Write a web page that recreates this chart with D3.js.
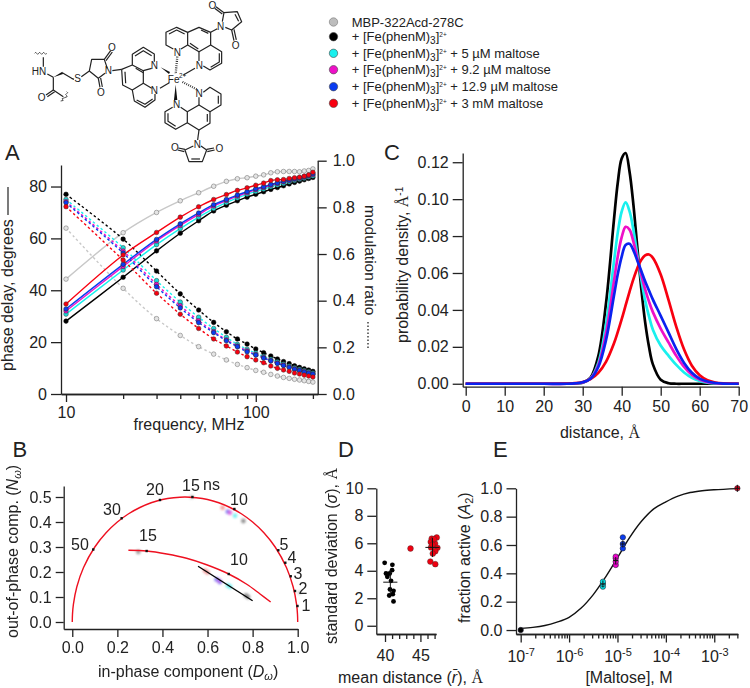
<!DOCTYPE html>
<html><head><meta charset="utf-8">
<script src="https://cdn.jsdelivr.net/npm/d3@7/dist/d3.min.js"></script>
<style>
html,body{margin:0;padding:0;background:#fff}
svg{display:block}
text{font-family:"Liberation Sans",Arial,sans-serif;fill:#222}
.axis path,.axis line{stroke:#222;stroke-width:1.3;fill:none;shape-rendering:auto}
.axis text{font-size:16px;font-family:"Liberation Sans",Arial,sans-serif;fill:#222}
</style></head><body>
<svg id="c" width="750" height="688" viewBox="0 0 750 688"></svg>
<script>
// ---------- Panel A data ----------
const freqs=[10,20,30,40,50,60,70,80,90,100,110,120,130,140,150,160,170,180,190,200];
const phaseGray=[44.3,62.2,70,74.5,77.6,80.1,82,83,83.4,84,84.5,85.3,85.7,85.8,85.8,85.8,85.7,86,86.2,86.8];
const phaseBlack=[28.1,45,55.2,62,66.8,70.6,72.8,74.5,75.9,77,78,78.9,79.6,80.3,81,81.6,82.1,82.6,83.1,83.5];
const phaseCyan=[30.8,47.8,57.6,63.8,68.2,71.5,73.8,75.6,77,78.1,79,79.9,80.6,81.2,81.8,82.3,82.8,83.2,83.7,84.1];
const phaseMagenta=[32,49.2,59,65,69.2,72.5,74.6,76.3,77.6,78.8,79.6,80.5,81.2,81.8,82.3,82.8,83.2,83.6,84.1,84.6];
const phaseBlue=[32.8,50,59.6,65.6,69.8,73,75,76.7,78,79.1,79.9,80.8,81.4,82,82.5,83,83.4,83.8,84.3,84.9];
const phaseRed=[34.7,53.6,62.3,68.2,72.2,75,76.9,78.5,79.5,80.5,81.3,82.3,82.6,82.7,83.1,83.4,83.6,84,84.5,85.5];
const modGray=[.711,.453,.323,.251,.203,.171,.146,.127,.113,.101,.093,.084,.077,.071,.067,.063,.06,.057,.054,.051];
const modBlack=[.856,.664,.527,.429,.36,.307,.267,.236,.214,.193,.177,.163,.15,.139,.13,.121,.114,.108,.103,.097];
const modCyan=[.834,.627,.486,.394,.329,.281,.243,.213,.192,.175,.161,.149,.138,.128,.12,.112,.106,.1,.095,.09];
const modMagenta=[.825,.613,.47,.378,.314,.268,.232,.206,.185,.169,.156,.143,.133,.124,.116,.108,.102,.096,.091,.086];
const modBlue=[.82,.604,.46,.369,.306,.263,.228,.203,.181,.167,.154,.142,.131,.122,.114,.106,.1,.094,.089,.085];
const modRed=[.803,.574,.432,.342,.281,.236,.206,.18,.16,.146,.134,.12,.11,.103,.097,.09,.086,.081,.077,.073];
// ---------- Panel C data ----------
const dist=[0,10,20,26,28,30,32,34,36,38,39,40,41,42,43,44,45,46,47,48,50,52,54,56,58,60,62,64,66,70];
const pBlack=[0,0,0,0,.00005,.0005,.0033,.015,.044,.0885,.109,.122,.125,.115,.097,.074,.052,.0335,.02,.0105,.0022,.0003,0,0,0,0,0,0,0,0];
const pCyan=[0,0,0,0,.0001,.0007,.0029,.0113,.0324,.0659,.082,.0933,.0982,.0935,.0834,.0698,.0569,.0452,.0365,.0293,.0207,.0152,.0102,.0061,.0032,.0015,.0006,.0002,.0001,0];
const pMagenta=[0,0,0,0,.0002,.0007,.0028,.01,.0276,.0553,.0691,.0794,.085,.0835,.077,.0681,.0593,.0512,.0445,.0388,.0299,.0224,.0151,.0091,.0048,.0023,.0009,.0003,.0001,0];
const pRed=[0,0,0,.0001,.0003,.00096,.0025,.0059,.012,.0218,.0281,.035,.0424,.0498,.0567,.0626,.067,.0695,.07,.0682,.0592,.0454,.0308,.0185,.0098,.0046,.0019,.0007,.0002,0];
const pBlue=[0,0,0,0,.0002,.0008,.0027,.0091,.0239,.0475,.0595,.0689,.0752,.0758,.0723,.0668,.0612,.0555,.0505,.0456,.0368,.0278,.0188,.0113,.006,.0028,.0012,.0004,.0001,0];
// ---------- Panel B data ----------
const circleD=[0,.001,.005,.02,.05,.1,.15,.2,.25,.3,.35,.4,.45,.5,.55,.6,.65,.7,.75,.8,.85,.9,.95,.98,.995,.999,1];
const circleN=[0,.0316,.0705,.14,.218,.3,.357,.4,.433,.458,.477,.49,.497,.5,.497,.49,.477,.458,.433,.4,.357,.3,.218,.14,.0705,.0316,0];
const lifeD=[.093,.219,.389,.533,.719,.914,.945,.969,.988,.999];
const lifeN=[.29,.415,.488,.5,.452,.287,.237,.183,.124,.064];
const lifeLabels=["50","30","20","15","10","5","4","3","2","1"];
const arcD=[.249,.33,.419,.507,.596,.694,.774,.833,.88];
const arcN=[.287,.284,.272,.255,.229,.192,.151,.112,.08];
const arcTickD=[.33,.694];
const arcTickN=[.284,.192];
const arcLabels=["15","10"];
const fitD=[.558,.8];
const fitN=[.223,.085];
const spotD=[.667,.69,.7,.722,.759,.293,.53,1.008,.589,.6,.64,.655,.65,.7,.69,.77,.78];
const spotN=[.457,.441,.437,.425,.404,.28,.5,.117,.205,.198,.17,.16,.165,.141,.146,.106,.1];
const spotColor=["#e88","#66e","#d5d","#5ee","#777","#888","#ccc","#ccc","#e88","#e88","#66e","#66e","#b6e","#5ee","#5ee","#777","#777"];
// ---------- Panel D data ----------
const dBlackR=[39.95,41.04,41,40.14,40.66,40.33,40.85,40.7,41.2,40.6,41.1,41.2];
const dBlackS=[4.58,4.43,4.04,3.8,3.8,3.56,3.27,2.64,2.54,2.2,2.3,1.77];
const dRedR=[43.6,46.4,47.1,47.3,46.6,46.46,47.07,46.5,47.4,47.1,46.75,46.9,46.7];
const dRedS=[5.62,4.67,4.48,6.42,6.34,6.1,5.98,5.7,5.67,5.42,5.25,6.3,5.9];
const dMeanR=[40.75,46.7];
const dMeanS=[3.17,5.7];
const dErrR=[1,1];
const dErrS=[.9,.7];
// ---------- Panel E data ----------
const fitLogC=[-7,-6.75,-6.5,-6.25,-6,-5.75,-5.5,-5.25,-5,-4.75,-4.5,-4.25,-4,-3.75,-3.5,-3.25,-3,-2.52];
const fitA=[.012,.019,.032,.056,.09,.155,.25,.372,.51,.652,.769,.855,.905,.945,.97,.983,.99,.998];
const eConc=[1e-7,5e-6,5e-6,5e-6,9.2e-6,9.2e-6,9.2e-6,9.2e-6,1.29e-5,1.29e-5,1.29e-5,3e-3];
const eFrac=[0,.306,.325,.341,.459,.482,.506,.518,.576,.607,.654,1];
const eColor=["#000","#00e5e5","#00e5e5","#00e5e5","#ee00cc","#ee00cc","#ee00cc","#ee00cc","#0a3cf0","#0a3cf0","#0a3cf0","#e8001a"];
const eMeanC=[5e-6,9.2e-6,1.29e-5,3e-3];
const eMeanA=[.325,.49,.607,1];
// ---------- Legend ----------
const legendColors=["#bdbdbd","#000000","#19f0ee","#ee10c8","#0a3cf0","#f80010"];
const legendSuffix=["","", " + 5 µM maltose"," + 9.2 µM maltose"," + 12.9 µM maltose"," + 3 mM maltose"];

const svg=d3.select("#c");
const INK="#222";
function txt(x,y,s,size,anchor,rot){
  const t=svg.append("text").attr("font-size",size).attr("text-anchor",anchor||"start");
  if(rot!==undefined)t.attr("transform",`translate(${x},${y}) rotate(${rot})`);else t.attr("x",x).attr("y",y);
  if(s)t.text(s);
  return t;
}
function axis(gen,tx,ty,cls){
  const g=svg.append("g").attr("class","axis").attr("transform",`translate(${tx},${ty})`).call(gen);
  return g;
}
// panel letters
[["A",5,160],["B",12.5,457],["C",384,160],["D",338,457],["E",493,457]].forEach(d=>txt(d[1],d[2],d[0],22));

// ---------- Panel A ----------
{
 const x=d3.scaleLog().domain([9.41,212]).range([61,317.7]);
 const yL=d3.scaleLinear().domain([0,88.3]).range([394,165]);
 const yR=d3.scaleLinear().domain([0,1]).range([394,160.7]);
 const series=[
  {c:"#c8c8c8",pc:"#e4e4e4",ps:"#666",ph:phaseGray,m:modGray},
  {c:"#000",pc:"#000",ps:"#000",ph:phaseBlack,m:modBlack},
  {c:"#19f0ee",pc:"#19dcdc",ps:"#333",ph:phaseCyan,m:modCyan},
  {c:"#ee10c8",pc:"#ee10c8",ps:"#333",ph:phaseMagenta,m:modMagenta},
  {c:"#0a3cf0",pc:"#0a3cf0",ps:"#222",ph:phaseBlue,m:modBlue},
  {c:"#f80010",pc:"#f80010",ps:"#333",ph:phaseRed,m:modRed}];
 const lP=d3.line().x((d,i)=>x(freqs[i])).y(d=>yL(d)).curve(d3.curveCatmullRom);
 const lM=d3.line().x((d,i)=>x(freqs[i])).y(d=>yR(d)).curve(d3.curveCatmullRom);
 series.forEach(s=>{
  svg.append("path").attr("d",lP(s.ph)).attr("fill","none").attr("stroke",s.c).attr("stroke-width",1.4);
  svg.append("path").attr("d",lM(s.m)).attr("fill","none").attr("stroke",s.c).attr("stroke-width",1.4).attr("stroke-dasharray","2.5 2.5");
 });
 series.forEach(s=>{
  [[s.ph,yL],[s.m,yR]].forEach(([v,y])=>{
   svg.append("g").selectAll("circle").data(v).join("circle")
    .attr("cx",(d,i)=>x(freqs[i])).attr("cy",d=>y(d)).attr("r",2.3)
    .attr("fill",s.pc).attr("stroke",s.ps).attr("stroke-width",.5);
  });
 });
 axis(d3.axisLeft(yL).tickValues([0,20,40,60,80]).tickSize(10).tickSizeOuter(0).tickPadding(4),61,0);
 axis(d3.axisRight(yR).tickValues([0,.2,.4,.6,.8,1]).tickSize(9).tickSizeOuter(0).tickPadding(6).tickFormat(d3.format(".1f")),317.7,0);
 axis(d3.axisBottom(x).tickValues([20,30,40,50,60,70,80,90,200]).tickSize(5).tickSizeOuter(0).tickFormat(""),0,394);
 axis(d3.axisBottom(x).tickValues([10,100]).tickSize(8).tickSizeOuter(0).tickPadding(5).tickFormat(d3.format("d")),0,394);
 txt(189,430,"frequency, MHz",16,"middle");
 txt(13,371,"phase delay, degrees",16,"start",-90);
 svg.append("line").attr("x1",8).attr("x2",8).attr("y1",187).attr("y2",215).attr("stroke",INK).attr("stroke-width",1.2);
 txt(364.5,205,"modulation ratio",15.5,"start",90);
 svg.append("line").attr("x1",368).attr("x2",368).attr("y1",322).attr("y2",348).attr("stroke",INK).attr("stroke-width",1.3).attr("stroke-dasharray","1.5 2");
}

// ---------- Panel B ----------
{
 const x=d3.scaleLinear().domain([-.038,1]).range([63.7,297.7]);
 const y=d3.scaleLinear().domain([-.028,.544]).range([629,486]);
 const ln=d3.line().x(d=>x(d[0])).y(d=>y(d[1]));
 const defs=svg.append("defs");
 defs.append("filter").attr("id","fz").attr("x","-150%").attr("y","-150%").attr("width","400%").attr("height","400%")
   .append("feGaussianBlur").attr("stdDeviation",1.3);
 svg.append("g").attr("filter","url(#fz)").selectAll("circle").data(spotD).join("circle")
   .attr("cx",d=>x(d)).attr("cy",(d,i)=>y(spotN[i])).attr("r",2.4).attr("fill",(d,i)=>spotColor[i]).attr("opacity",.75);
 svg.append("path").attr("d",ln.curve(d3.curveCatmullRom)(d3.zip(circleD,circleN))).attr("fill","none").attr("stroke","#ee1020").attr("stroke-width",1.4);
 svg.append("path").attr("d",ln.curve(d3.curveCatmullRom)(d3.zip(arcD,arcN))).attr("fill","none").attr("stroke","#ee1020").attr("stroke-width",1.4);
 svg.append("path").attr("d",ln.curve(d3.curveLinear)(d3.zip(fitD,fitN))).attr("fill","none").attr("stroke","#000").attr("stroke-width",1.4);
 svg.append("g").selectAll("rect").data(lifeD.concat(arcTickD)).join("rect")
   .attr("x",d=>x(d)-1.2).attr("y",(d,i)=>y(lifeN.concat(arcTickN)[i])-1.2).attr("width",2.4).attr("height",2.4).attr("fill","#111");
 axis(d3.axisLeft(y).tickValues([0,.1,.2,.3,.4,.5]).tickSize(8).tickSizeOuter(0).tickPadding(4).tickFormat(d3.format(".1f")),63.7,0);
 axis(d3.axisBottom(x).tickValues([0,.2,.4,.6,.8,1]).tickSize(8).tickSizeOuter(0).tickPadding(5).tickFormat(d3.format(".1f")),0,629);
 const lab=[[80,549.5],[112,514.5],[155,494.5],[191,490.5],[239,504.5],[284,549.5],[292,562.5],[298,578.5],[303,593.5],[306,610.5]];
 lifeLabels.forEach((s,i)=>txt(lab[i][0],lab[i][1],s,16,"middle"));
 txt(203,490,"ns",16,"start");
 txt(148,540.5,arcLabels[0],16,"middle");
 txt(239,564.5,arcLabels[1],16,"middle");
 const t=txt(98,677,null,16);
 t.append("tspan").text("in-phase component (");
 t.append("tspan").attr("font-style","italic").text("D");
 t.append("tspan").attr("font-style","italic").attr("font-size",11).attr("dy",3).text("ω");
 t.append("tspan").attr("dy",-3).text(")");
 const u=txt(18,638,null,16,"start",-90);
 u.append("tspan").text("out-of-phase comp. (");
 u.append("tspan").attr("font-style","italic").text("N");
 u.append("tspan").attr("font-style","italic").attr("font-size",11).attr("dy",3).text("ω");
 u.append("tspan").attr("dy",-3).text(")");
}

// ---------- Panel C ----------
{
 const x=d3.scaleLinear().domain([-.77,70]).range([462.7,738.7]);
 const y=d3.scaleLinear().domain([-.0016,.125]).range([386.7,153]);
 const ln=d3.line().x((d,i)=>x(dist[i])).y(d=>y(d)).curve(d3.curveCatmullRom);
 [[pBlack,"#000"],[pCyan,"#19f0ee"],[pMagenta,"#ee10c8"],[pRed,"#f80010"],[pBlue,"#0a22f0"]].forEach(([v,c])=>{
  svg.append("path").attr("d",ln(v)).attr("fill","none").attr("stroke",c).attr("stroke-width",2.7);
 });
 axis(d3.axisLeft(y).tickValues([0,.02,.04,.06,.08,.1,.12]).tickSize(10).tickSizeOuter(0).tickPadding(4).tickFormat(d3.format(".2f")),462.7,0);
 axis(d3.axisBottom(x).tickValues(d3.range(0,71,10)).tickSize(9).tickSizeOuter(0).tickPadding(5).tickFormat(d3.format("d")),0,386.7);
 const t=txt(600,438,null,16,"middle");
 t.append("tspan").text("distance, ");
 t.append("tspan").style("font-family","Liberation Serif").text("Å");
 const u=txt(408,343,null,16,"start",-90);
 u.append("tspan").text("probability density, ");
 u.append("tspan").style("font-family","Liberation Serif").text("Å");
 u.append("tspan").attr("font-size",10).attr("dy",-5).text("-1");
}

// ---------- Panel D ----------
{
 const x=d3.scaleLinear().domain([38.77,47.2]).range([376.3,436]);
 const y=d3.scaleLinear().domain([-.6,10]).range([634,488.3]);
 svg.append("g").selectAll("circle").data(dBlackR).join("circle").attr("cx",d=>x(d)).attr("cy",(d,i)=>y(dBlackS[i])).attr("r",2.4).attr("fill","#000");
 svg.append("g").selectAll("circle").data(dRedR).join("circle").attr("cx",d=>x(d)).attr("cy",(d,i)=>y(dRedS[i])).attr("r",2.9).attr("fill","#f00010").attr("stroke","#333").attr("stroke-width",.4);
 dMeanR.forEach((r,i)=>{
  const g=svg.append("g").attr("stroke","#111").attr("stroke-width",1);
  g.append("line").attr("x1",x(r-dErrR[i])).attr("x2",x(r+dErrR[i])).attr("y1",y(dMeanS[i])).attr("y2",y(dMeanS[i]));
  g.append("line").attr("x1",x(r)).attr("x2",x(r)).attr("y1",y(dMeanS[i]-dErrS[i])).attr("y2",y(dMeanS[i]+dErrS[i]));
 });
 axis(d3.axisLeft(y).tickValues([0,2,4,6,8,10]).tickSize(9).tickSizeOuter(0).tickPadding(4).tickFormat(d3.format("d")),376.3,0);
 axis(d3.axisBottom(x).tickValues([41,42,43,44,46,47]).tickSize(5).tickSizeOuter(0).tickFormat(""),0,634);
 axis(d3.axisBottom(x).tickValues([40,45]).tickSize(8).tickSizeOuter(0).tickPadding(8).tickFormat(d3.format("d")),0,634);
 const t=txt(338,682.7,null,16);
 t.append("tspan").text("mean distance (");
 t.append("tspan").attr("font-style","italic").text("r\u0304");
 t.append("tspan").text("), ");
 t.append("tspan").style("font-family","Liberation Serif").text("Å");
 const u=txt(337,644,null,16,"start",-90);
 u.append("tspan").text("standard deviation (");
 u.append("tspan").attr("font-style","italic").text("σ");
 u.append("tspan").text("),  ");
 u.append("tspan").style("font-family","Liberation Serif").text("Å");
}

// ---------- Panel E ----------
{
 const x=d3.scaleLog().domain([8e-8,3.05e-3]).range([516,737.7]);
 const y=d3.scaleLinear().domain([-.028,1]).range([634,488.3]);
 const ln=d3.line().x((d,i)=>x(Math.pow(10,fitLogC[i]))).y(d=>y(d)).curve(d3.curveCatmullRom);
 svg.append("path").attr("d",ln(fitA)).attr("fill","none").attr("stroke","#111").attr("stroke-width",1.4);
 svg.append("g").selectAll("circle").data(eConc).join("circle").attr("cx",d=>x(d)).attr("cy",(d,i)=>y(eFrac[i])).attr("r",2.7)
   .attr("fill",(d,i)=>eColor[i]).attr("stroke","#223").attr("stroke-width",.6);
 eMeanC.forEach((c,i)=>{
  const g=svg.append("g").attr("stroke","#111").attr("stroke-width",1);
  g.append("line").attr("x1",x(c)-2.5).attr("x2",x(c)+2.5).attr("y1",y(eMeanA[i])).attr("y2",y(eMeanA[i]));
  g.append("line").attr("x1",x(c)).attr("x2",x(c)).attr("y1",y(eMeanA[i])-3.5).attr("y2",y(eMeanA[i])+3.5);
 });
 axis(d3.axisLeft(y).tickValues([0,.2,.4,.6,.8,1]).tickSize(9.5).tickSizeOuter(0).tickPadding(4).tickFormat(d3.format(".1f")),516,0);
 const minor=[];
 [-7,-6,-5,-4,-3].forEach(p=>[2,3,4,5,6,7,8,9].forEach(m=>{const v=m*Math.pow(10,p);if(v<=3.01e-3)minor.push(v);}));
 axis(d3.axisBottom(x).tickValues(minor).tickSize(4.5).tickSizeOuter(0).tickFormat(""),0,634);
 const major=axis(d3.axisBottom(x).tickValues([1e-7,1e-6,1e-5,1e-4,1e-3]).tickSize(8.5).tickSizeOuter(0).tickPadding(8).tickFormat(""),0,634);
 const expo=["-7","-6","-5","-4","-3"];
 major.selectAll(".tick text").each(function(d,i){
  const s=d3.select(this);
  s.text("10");
  s.append("tspan").attr("font-size",11).attr("dy",-6).text(expo[i]);
 });
 txt(629,682.7,"[Maltose], M",16,"middle");
 const u=txt(470,623,null,16,"start",-90);
 u.append("tspan").text("fraction active (");
 u.append("tspan").attr("font-style","italic").text("A");
 u.append("tspan").attr("font-size",11).attr("dy",3).text("2");
 u.append("tspan").attr("dy",-3).text(")");
}

// ---------- Legend ----------
{
 const ys=[22,36.7,53.3,69.7,86.7,103.3];
 legendColors.forEach((c,i)=>{
  svg.append("circle").attr("cx",333.5).attr("cy",ys[i]).attr("r",4.2).attr("fill",c).attr("stroke",i==0?"#777":"#444").attr("stroke-width",.6);
  const t=txt(351.7,ys[i]+4.5,null,13);
  if(i==0){t.text("MBP-322Acd-278C");return;}
  t.append("tspan").text("+ [Fe(phenM)");
  t.append("tspan").attr("font-size",10).attr("dy",3).text("3");
  t.append("tspan").attr("dy",-3).text("]");
  t.append("tspan").attr("font-size",6.5).attr("dy",-4).text("2+");
  t.append("tspan").attr("dy",4).text(legendSuffix[i]);
 });
}

// ---------- Chemical structure (schematic, drawn in 3× crop units) ----------
{
 const g=svg.append("g").attr("transform","scale(.3333)").attr("fill","none").attr("stroke","#222").attr("stroke-width",3.6).attr("stroke-linejoin","round");
 const poly=[
  [[130,172],[130,200]],[[142,222],[160,232]],[[187,218],[215,235],[222,238]],[[244,230],[268,213],[275,178],[313,178],[322,205]],
  [[268,213],[295,235],[315,220]],[[160,232],[160,270],[190,290]],[[160,270],[138,285]],[[164,275],[142,290]],
  [[313,178],[332,152]],[[318,182],[337,156]],[[295,235],[300,262]],[[302,234],[307,261]],[[337,212],[365,208]],
  // left phen
  [[365,208],[397,195],[397,163],[430,142],[463,162],[463,185]],[[455,205],[430,212],[397,195]],[[430,212],[430,250],[455,265]],
  [[365,208],[368,255],[397,270],[430,250]],[[397,270],[403,303],[435,322],[465,300],[465,282]],
  [[405,168],[430,152],[455,167]],[[375,215],[377,250]],[[410,300],[435,313],[458,297]],[[407,205],[430,218]],
  // upper right phen
  [[520,147],[498,135],[498,97],[530,82],[563,97],[563,135],[543,147]],[[563,97],[597,82],[632,97],[632,135],[597,155],[563,135]],
  [[632,135],[665,155],[665,190],[630,210],[610,198]],[[597,155],[597,183]],[[632,97],[652,86]],
  [[507,102],[530,90],[554,102]],[[603,90],[625,100]],[[658,160],[658,186],[632,202]],[[570,130],[595,147]],
  // upper maleimide
  [[667,65],[672,38],[712,35],[725,65],[695,90],[676,82]],[[672,38],[648,20]],[[667,42],[644,25]],[[695,90],[702,122]],[[702,88],[709,120]],[[705,43],[716,64]],
  // lower phen
  [[518,322],[495,335],[495,368],[527,388],[562,368],[562,335],[542,322]],[[562,335],[597,315],[630,335],[630,370],[597,390],[562,368]],
  [[597,292],[597,315]],[[610,277],[630,262],[663,282],[663,315],[630,335]],[[504,340],[504,364],[527,379]],[[655,287],[655,311]],[[622,342],[622,365]],
  [[597,390],[593,420]],
  // lower maleimide
  [[580,438],[555,450],[567,485],[607,485],[620,450],[603,438]],[[555,448],[535,444]],[[553,455],[533,450]],[[620,448],[642,444]],[[622,455],[644,450]],[[574,477],[600,477]],
  // Fe bonds (plain)
  [[480,265],[508,248]],[[585,205],[550,225]]];
 poly.forEach(p=>g.append("path").attr("d",d3.line()(p)));
 // wavy bonds
 g.append("path").attr("stroke-width",2.4).attr("d","M104 160q3 -6 6 0t6 0t6 0t6 0t6 0t6 0");
 g.append("path").attr("stroke-width",2.4).attr("d","M200 275q6 3 0 6t0 6t-6 6t-6 6t-6 4");
 // wedges
 g.append("path").attr("fill","#111").attr("stroke","none").attr("d","M160 232L187 215L189 222Z");
 g.append("path").attr("fill","#111").attr("stroke","none").attr("d","M482 202L510 216L507 222Z");
 g.append("path").attr("fill","#111").attr("stroke","none").attr("d","M527 254L522 300L532 300Z");
 // hashed
 g.append("path").attr("stroke-dasharray","2.5 4").attr("stroke-width",7).attr("d","M532 170L527 222");
 g.append("path").attr("stroke-dasharray","2.5 4").attr("stroke-width",7).attr("d","M590 268L546 245");
 const atoms=[["HN",117,213],["S",233,236],["O",336,143],["O",303,276],["O",125,291],["N",325,211],["N",463,195],["N",463,270],["N",532,156],["N",598,197],["N",662,78],["O",637,15],["O",707,135],["N",530,313],["N",597,280],["N",592,432],["O",525,442],["O",658,445],["Fe",521,237]];
 atoms.forEach(a=>{
  svg.append("text").attr("x",a[1]/3).attr("y",a[2]/3+3.6).attr("text-anchor","middle").attr("font-size",10).attr("fill","#222").text(a[0]);
 });
 svg.append("text").attr("x",548/3).attr("y",233/3).attr("text-anchor","middle").attr("font-size",6.5).text("2+");
}
</script>
</body></html>
